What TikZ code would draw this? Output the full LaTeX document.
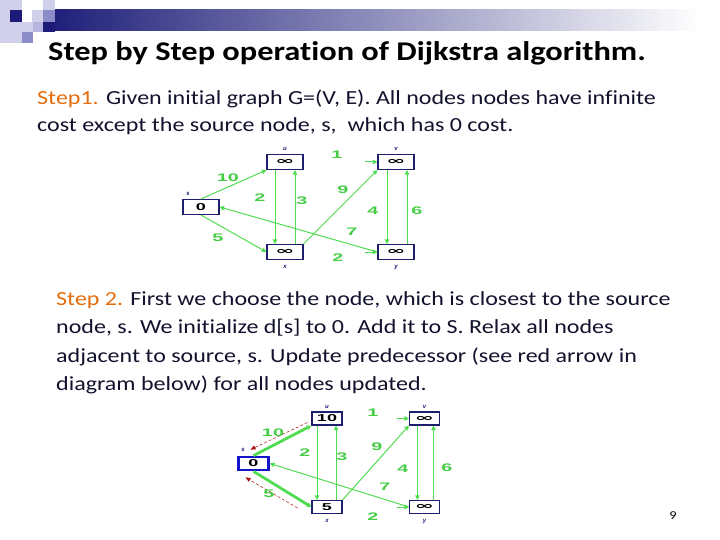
\documentclass[tikz,border=0pt]{standalone}
\usepackage{fontspec}
\setmainfont{Carlito}[FakeStretch=1.2, Ligatures=NoCommon]
\newfontfamily\graphfont{Liberation Sans}
\newfontfamily\symfont{DejaVu Sans}
\usetikzlibrary{arrows.meta,positioning,calc}

\definecolor{navy}{RGB}{28,28,120}
\definecolor{lilac}{RGB}{208,208,235}
\definecolor{midlilac}{RGB}{140,140,200}
\definecolor{stepor}{RGB}{228,108,10}
\definecolor{bodyc}{RGB}{18,18,45}
\definecolor{boxblue}{RGB}{30,30,110}
\definecolor{srcblue}{RGB}{20,20,200}
\definecolor{egreen}{RGB}{80,220,80}
\definecolor{wgreen}{RGB}{70,205,70}
\definecolor{predred}{RGB}{170,20,20}

% horizontally stretched glyphs, as in the bitmap figure
\newcommand{\wide}[1]{\scalebox{1.8}[1]{#1}}
\newcommand{\infcost}{\scalebox{2.3}[1]{{\symfont\bfseries ∞}}}

\begin{document}
\begin{tikzpicture}[
  x=1pt, y=-1pt,
  >={Triangle[length=4.5pt,width=4.5pt]},
  vbox/.style={draw=boxblue, fill=white, line width=1.1pt,
               minimum width=36pt, minimum height=15pt, inner sep=0pt,
               font=\graphfont\bfseries\fontsize{10}{10}\selectfont},
  vboxs/.style={vbox, minimum width=30pt, minimum height=13pt},
  srcbox/.style={vboxs, draw=srcblue, line width=2.8pt},
  wlab/.style={text=wgreen, inner sep=0pt,
               font=\graphfont\bfseries\fontsize{11}{11}\selectfont},
  nlab/.style={text=navy, inner sep=0pt,
               font=\graphfont\bfseries\itshape\fontsize{6}{6}\selectfont},
  gedge/.style={->, draw=egreen, line width=1pt},
  gthick/.style={->, draw=egreen, line width=2.8pt},
  predarr/.style={-{Triangle[length=5pt,width=4pt]}, draw=predred,
                  densely dashed, line width=0.5pt},
  steptext/.style={anchor=base west, inner sep=0pt, text=bodyc,
                   font=\fontsize{20}{20}\selectfont},
]
\useasboundingbox (0,0) rectangle (720,540);

%%---- Header decoration ----------------------------------------------
\shade[left color=navy, right color=white] (43,10) rectangle (700,31);
\fill[lilac] (0,0) rectangle (10,43);
\fill[lilac] (10,0) rectangle (22,10);
\fill[navy] (10,10) rectangle (22,22);
\fill[lilac] (10,22) rectangle (22,43);
\fill[lilac] (32,10) rectangle (43,22);
\fill[lilac] (43,0) rectangle (55,10);
\fill[midlilac] (43,10) rectangle (55,22);
\fill[lilac] (22,22) rectangle (33,32);
\fill[lilac!60!midlilac] (33,22) rectangle (43,32);
\fill[navy] (43,22) rectangle (55,32);
\fill[midlilac] (22,32) rectangle (33,43);

\node[anchor=base west, inner sep=0pt, font=\bfseries\fontsize{27}{27}\selectfont]
  (title) at (48,61) {Step by Step operation of Dijkstra algorithm.};

%%---- Step 1 text ----------------------------------------------------
\node[steptext] (s1a) at (37,104.5)
  {\textcolor{stepor}{Step1.} Given initial graph G=(V, E). All nodes nodes have infinite};
\node[steptext] (s1b) at (37,132)
  {cost except the source node, s,\ \ which has 0 cost.};

%%---- Step 1 graph ---------------------------------------------------
\node[vbox] (s1) at (201,207) {\wide{0}};
\node[vbox] (u1) at (285,162) {\infcost};
\node[vbox] (v1) at (396,162) {\infcost};
\node[vbox] (x1) at (285,252) {\infcost};
\node[vbox] (y1) at (396,252) {\infcost};

\node[nlab, above=3pt of u1] (nu1) {u};
\node[nlab, above=3pt of v1] (nv1) {v};
\node[nlab] (ns1) at (188,194) {s};
\node[nlab, below=5pt of x1] (nx1) {x};
\node[nlab, below=5pt of y1] (ny1) {y};

\coordinate (uv1) at ($(v1.west)+(-12,0)$);
\coordinate (xy1) at ($(y1.west)+(-12,0)$);

\draw[gedge] (s1.north) -- (u1.south west);
\draw[gedge] (s1.south) -- (x1.west);
\draw[gedge] ($(u1.south)+(-10,0)$) -- ($(x1.north)+(-10,0)$);
\draw[gedge] ($(x1.north)+(10,0)$) -- ($(u1.south)+(10,0)$);
\draw[gedge] (x1.north east) -- (v1.south west);
\draw[gedge] ($(v1.south)+(-9,0)$) -- ($(y1.north)+(-9,0)$);
\draw[gedge] ($(y1.north)+(11,0)$) -- ($(v1.south)+(11,0)$);
\draw[gedge] (y1.west) -- (s1.east);
\draw[gedge] (uv1) -- (v1.west);
\draw[gedge] (xy1) -- (y1.west);

\node[wlab] (w1su) at (228,178) {\wide{10}};
\node[wlab] (w1ux) at (260,198) {\wide{2}};
\node[wlab] (w1xu) at (302,201) {\wide{3}};
\node[wlab] (w1xv) at (343,190) {\wide{9}};
\node[wlab] (w1uv) at (337,155) {\wide{1}};
\node[wlab] (w1vy) at (373,211) {\wide{4}};
\node[wlab] (w1yv) at (417,211) {\wide{6}};
\node[wlab] (w1ys) at (352,232) {\wide{7}};
\node[wlab] (w1sx) at (218,238) {\wide{5}};
\node[wlab] (w1xy) at (338,258) {\wide{2}};

%%---- Step 2 text ----------------------------------------------------
\node[steptext] (s2a) at (56,305)
  {\textcolor{stepor}{Step 2.} First we choose the node, which is closest to the source};
\node[steptext] (s2b) at (56,333.5)
  {node, s. We initialize d[s] to 0. Add it to S. Relax all nodes};
\node[steptext] (s2c) at (56,362)
  {adjacent to source, s. Update predecessor (see red arrow in};
\node[steptext] (s2d) at (56,390)
  {diagram below) for all nodes updated.};

%%---- Step 2 graph ---------------------------------------------------
\node[srcbox] (s2) at (253.5,463.5) {\wide{0}};
\node[vboxs] (u2) at (327,418.5) {\wide{10}};
\node[vboxs] (v2) at (424.5,418.5) {\infcost};
\node[vboxs] (x2) at (327,507) {\wide{5}};
\node[vboxs] (y2) at (424.5,507) {\infcost};

\node[nlab, above=3pt of u2] (nu2) {u};
\node[nlab, above=3pt of v2] (nv2) {v};
\node[nlab] (ns2) at (243,450) {s};
\node[nlab, below=5pt of x2] (nx2) {x};
\node[nlab, below=5pt of y2] (ny2) {y};

\coordinate (uv2) at ($(v2.west)+(-12,0)$);
\coordinate (xy2) at ($(y2.west)+(-12,0)$);

\draw[gthick] (s2.north) -- (u2.south west);
\draw[gthick] (s2.south) -- (x2.west);
\draw[gedge] ($(u2.south)+(-10,0)$) -- ($(x2.north)+(-10,0)$);
\draw[gedge] ($(x2.north)+(9,0)$) -- ($(u2.south)+(9,0)$);
\draw[gedge] (x2.north east) -- (v2.south west);
\draw[gedge] ($(v2.south)+(-7,0)$) -- ($(y2.north)+(-7,0)$);
\draw[gedge] ($(y2.north)+(9,0)$) -- ($(v2.south)+(9,0)$);
\draw[gedge] (y2.west) -- (s2.east);
\draw[gedge] (uv2) -- (v2.west);
\draw[gedge] (xy2) -- (y2.west);

% predecessor pointers
\coordinate (predU) at ($(u2.west)+(-4,4)$);
\coordinate (predUs) at ($(s2.north)+(-3,-6)$);
\coordinate (predX) at ($(x2.west)+(-14,1)$);
\coordinate (predXs) at ($(s2.south)+(-8,6)$);
\draw[predarr] (predU) -- (predUs);
\draw[predarr] (predX) -- (predXs);

\node[wlab] (w2su) at (273,433) {\wide{10}};
\node[wlab] (w2ux) at (305,453) {\wide{2}};
\node[wlab] (w2xu) at (342,457) {\wide{3}};
\node[wlab] (w2xv) at (377,447) {\wide{9}};
\node[wlab] (w2uv) at (373,413) {\wide{1}};
\node[wlab] (w2vy) at (403,469) {\wide{4}};
\node[wlab] (w2yv) at (447,468) {\wide{6}};
\node[wlab] (w2ys) at (385,487) {\wide{7}};
\node[wlab] (w2sx) at (269,494) {\wide{5}};
\node[wlab] (w2xy) at (373,517) {\wide{2}};

%%---- Page number ----------------------------------------------------
\node[inner sep=0pt, font=\fontsize{12}{12}\selectfont] (pageno) at (673,516) {9};

\end{tikzpicture}
\end{document}
